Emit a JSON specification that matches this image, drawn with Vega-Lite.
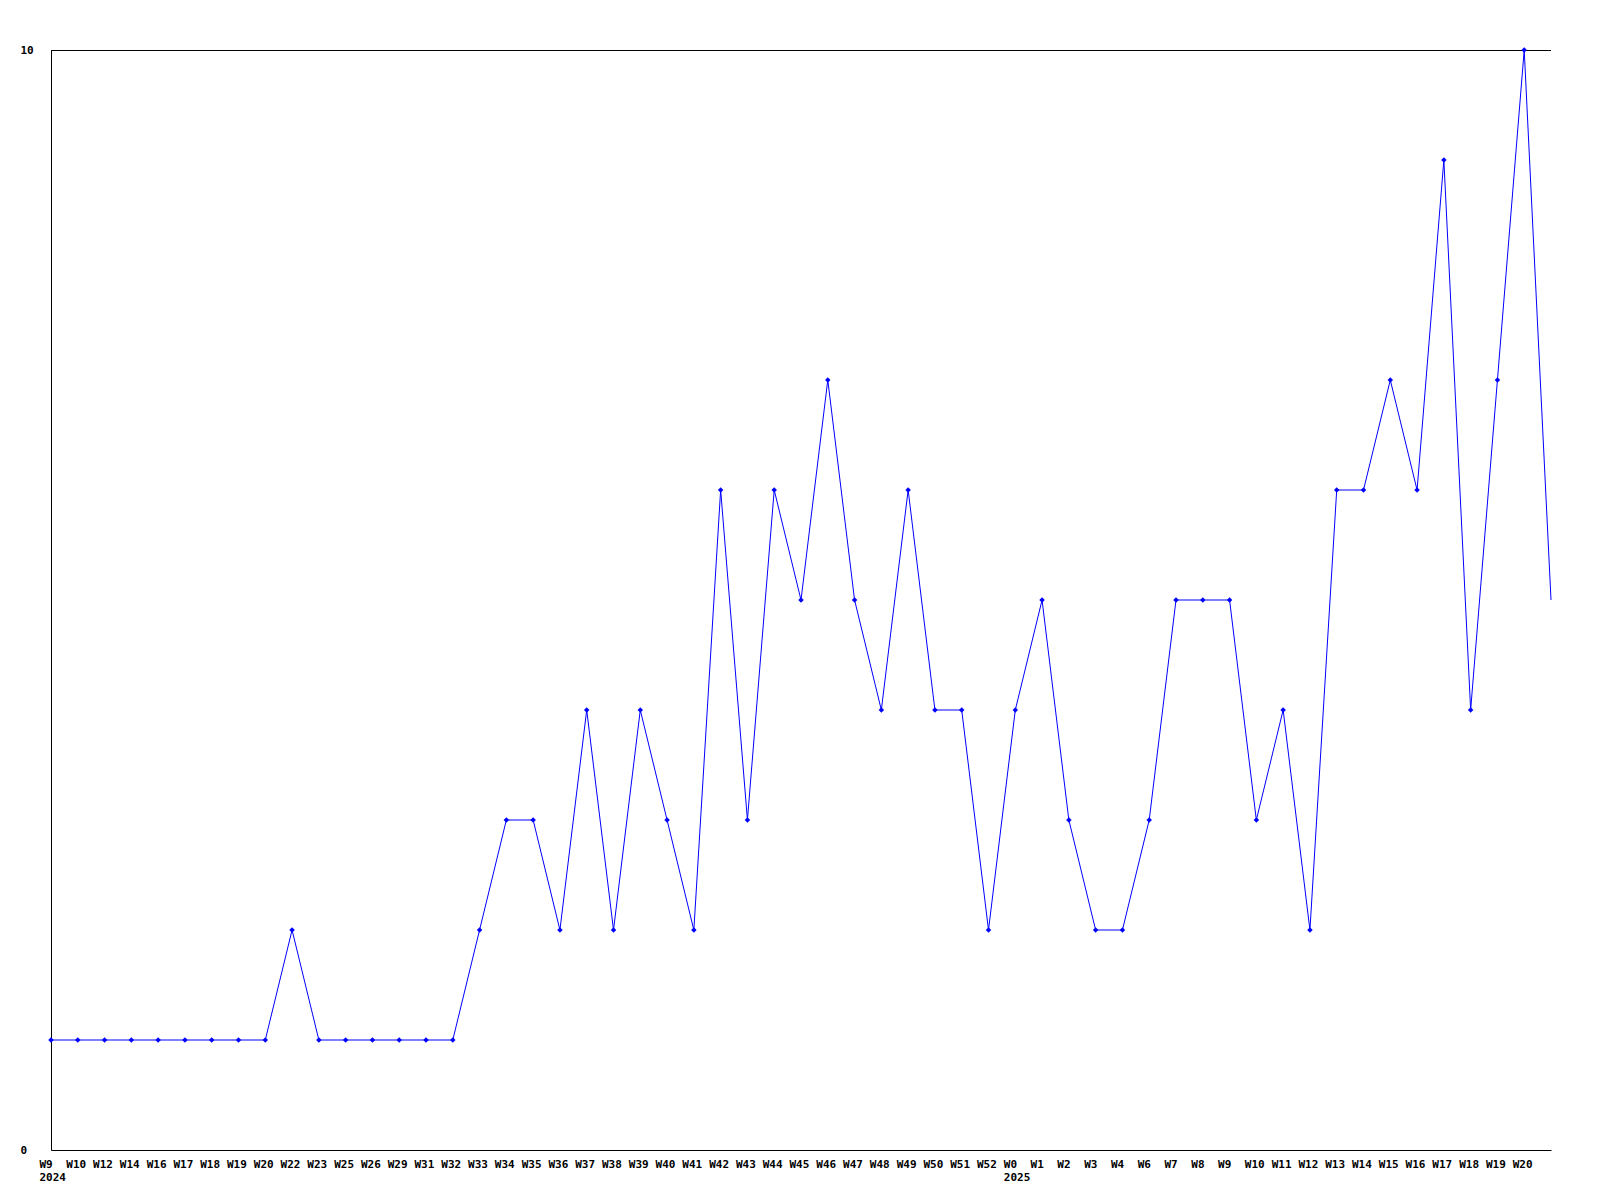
{
  "$schema": "https://vega.github.io/schema/vega-lite/v6.json",
  "width": 1500,
  "height": 1100,
  "autosize": "none",
  "padding": {"left": 51, "top": 50, "right": 49, "bottom": 50},
  "background": "white",
  "config": {
    "view": {"stroke": null},
    "font": "DejaVu Sans Mono"
  },
  "data": {
    "values": [
      {"week": "2024-W9", "count": 1},
      {"week": "2024-W10", "count": 1},
      {"week": "2024-W12", "count": 1},
      {"week": "2024-W14", "count": 1},
      {"week": "2024-W16", "count": 1},
      {"week": "2024-W17", "count": 1},
      {"week": "2024-W18", "count": 1},
      {"week": "2024-W19", "count": 1},
      {"week": "2024-W20", "count": 1},
      {"week": "2024-W22", "count": 2},
      {"week": "2024-W23", "count": 1},
      {"week": "2024-W25", "count": 1},
      {"week": "2024-W26", "count": 1},
      {"week": "2024-W29", "count": 1},
      {"week": "2024-W31", "count": 1},
      {"week": "2024-W32", "count": 1},
      {"week": "2024-W33", "count": 2},
      {"week": "2024-W34", "count": 3},
      {"week": "2024-W35", "count": 3},
      {"week": "2024-W36", "count": 2},
      {"week": "2024-W37", "count": 4},
      {"week": "2024-W38", "count": 2},
      {"week": "2024-W39", "count": 4},
      {"week": "2024-W40", "count": 3},
      {"week": "2024-W41", "count": 2},
      {"week": "2024-W42", "count": 6},
      {"week": "2024-W43", "count": 3},
      {"week": "2024-W44", "count": 6},
      {"week": "2024-W45", "count": 5},
      {"week": "2024-W46", "count": 7},
      {"week": "2024-W47", "count": 5},
      {"week": "2024-W48", "count": 4},
      {"week": "2024-W49", "count": 6},
      {"week": "2024-W50", "count": 4},
      {"week": "2024-W51", "count": 4},
      {"week": "2024-W52", "count": 2},
      {"week": "2025-W0", "count": 4},
      {"week": "2025-W1", "count": 5},
      {"week": "2025-W2", "count": 3},
      {"week": "2025-W3", "count": 2},
      {"week": "2025-W4", "count": 2},
      {"week": "2025-W6", "count": 3},
      {"week": "2025-W7", "count": 5},
      {"week": "2025-W8", "count": 5},
      {"week": "2025-W9", "count": 5},
      {"week": "2025-W10", "count": 3},
      {"week": "2025-W11", "count": 4},
      {"week": "2025-W12", "count": 2},
      {"week": "2025-W13", "count": 6},
      {"week": "2025-W14", "count": 6},
      {"week": "2025-W15", "count": 7},
      {"week": "2025-W16", "count": 6},
      {"week": "2025-W17", "count": 9},
      {"week": "2025-W18", "count": 4},
      {"week": "2025-W19", "count": 7},
      {"week": "2025-W20", "count": 10},
      {"week": "2025-W21", "count": 5}
    ]
  },
  "encoding": {
    "x": {
      "field": "week",
      "type": "ordinal",
      "sort": null,
      "scale": {"type": "point", "padding": 0},
      "axis": {
        "title": null,
        "ticks": false,
        "domainColor": "black",
        "domainWidth": 1,
        "labelAngle": 0,
        "labelAlign": "left",
        "labelBaseline": "top",
        "labelOffset": -12,
        "labelPadding": 8,
        "labelFont": "DejaVu Sans Mono",
        "labelFontWeight": "bold",
        "labelFontSize": 11,
        "labelLineHeight": 13,
        "labelColor": "black",
        "labelOverlap": false,
        "labelFlush": false,
        "labelExpr": "datum.value == '2024-W9' ? ['W9', '2024'] : datum.value == '2025-W0' ? ['W0', '2025'] : datum.value == '2025-W21' ? '' : split(datum.value, '-')[1]"
      }
    },
    "y": {
      "field": "count",
      "type": "quantitative",
      "scale": {"domain": [0, 10], "nice": false},
      "axis": {
        "title": null,
        "grid": false,
        "ticks": false,
        "values": [0, 10],
        "domainColor": "black",
        "domainWidth": 1,
        "labelAlign": "left",
        "labelBaseline": "middle",
        "labelPadding": 31,
        "labelFont": "DejaVu Sans Mono",
        "labelFontWeight": "bold",
        "labelFontSize": 11,
        "labelColor": "black",
        "labelFlush": false
      }
    }
  },
  "layer": [
    {
      "mark": {"type": "rule", "color": "black", "strokeWidth": 1, "yOffset": 0.5},
      "encoding": {"y": {"datum": 10}, "x": null}
    },
    {
      "mark": {"type": "line", "color": "#0000ff", "strokeWidth": 1}
    },
    {
      "transform": [{"filter": "datum.week != '2025-W21'"}],
      "mark": {"type": "point", "shape": "diamond", "filled": true, "color": "#0000ff", "size": 30, "opacity": 1}
    }
  ]
}
